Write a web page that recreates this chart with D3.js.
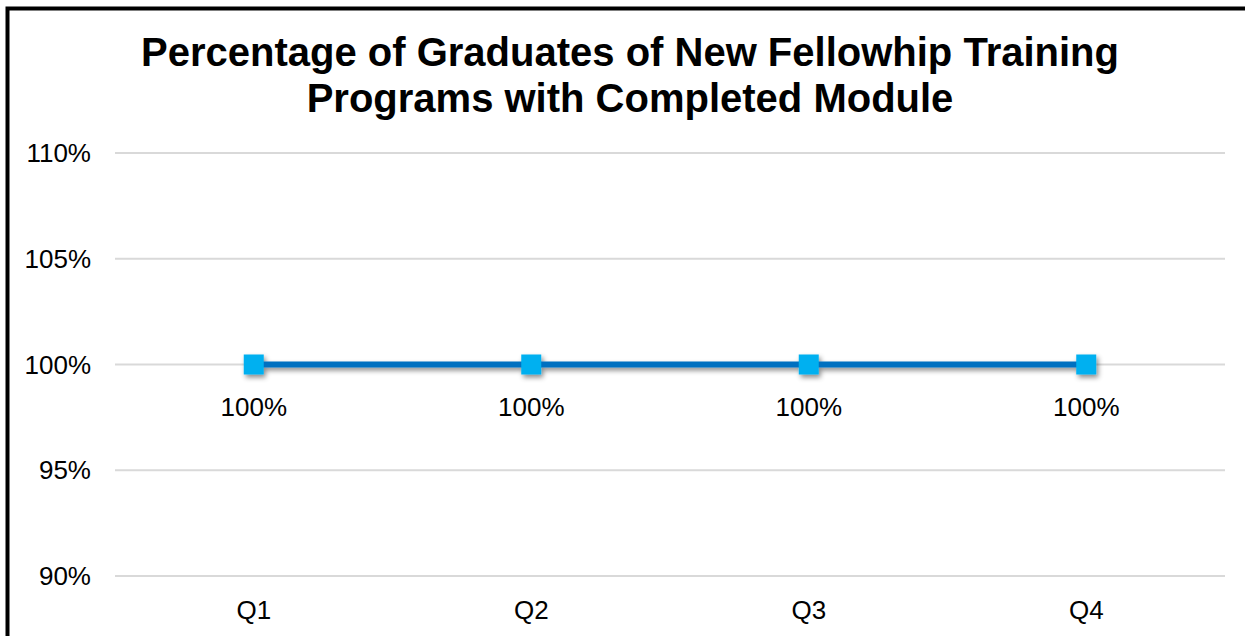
<!DOCTYPE html>
<html>
<head>
<meta charset="utf-8">
<script src="https://cdn.jsdelivr.net/npm/d3@7"></script>
<style>
  body { margin: 0; background: #fff; }
  svg { display: block; font-family: "Liberation Sans", Arial, sans-serif; }
</style>
</head>
<body>
<div id="chart"></div>
<script>
// data
const quarters = ["Q1", "Q2", "Q3", "Q4"];
const values = [100, 100, 100, 100];
const yTicks = [90, 95, 100, 105, 110];
const titleLines = ["Percentage of Graduates of New Fellowhip Training", "Programs with Completed Module"];

const width = 1245;
const height = 636;
const plot = { left: 115, right: 1225, top: 153, bottom: 576 };

const svg = d3.select("#chart").append("svg")
  .attr("width", width)
  .attr("height", height);

const defs = svg.append("defs");
const shadow = defs.append("filter").attr("id", "shadow")
  .attr("x", "-50%").attr("y", "-50%").attr("width", "200%").attr("height", "200%");
shadow.append("feDropShadow")
  .attr("dx", 2).attr("dy", 3).attr("stdDeviation", 2.5)
  .attr("flood-color", "#000").attr("flood-opacity", 0.45);

// frame (left + top edges visible)
svg.append("path")
  .attr("d", `M7.5,${height} V8.5 H${width}`)
  .attr("fill", "none")
  .attr("stroke", "#000")
  .attr("stroke-width", 4);

const x = d3.scaleBand().domain(quarters).range([plot.left, plot.right]);
const y = d3.scaleLinear().domain([90, 110]).range([plot.bottom, plot.top]);

// gridlines
svg.append("g").selectAll("line").data(yTicks).join("line")
  .attr("x1", plot.left).attr("x2", plot.right)
  .attr("y1", d => y(d)).attr("y2", d => y(d))
  .attr("stroke", "#d9d9d9").attr("stroke-width", 2);

// y axis labels
svg.append("g").selectAll("text").data(yTicks).join("text")
  .attr("x", 91).attr("y", d => y(d))
  .attr("dy", "0.35em")
  .attr("text-anchor", "end")
  .attr("font-size", 26)
  .attr("fill", "#000")
  .text(d => d + "%");

// x axis labels
svg.append("g").selectAll("text").data(quarters).join("text")
  .attr("x", d => x(d) + x.bandwidth() / 2)
  .attr("y", plot.bottom + 34)
  .attr("dy", "0.35em")
  .attr("text-anchor", "middle")
  .attr("font-size", 26)
  .attr("fill", "#000")
  .text(d => d);

// title
svg.append("text")
  .attr("x", 630).attr("y", 52)
  .attr("text-anchor", "middle")
  .attr("font-size", 40)
  .attr("font-weight", "bold")
  .selectAll("tspan").data(titleLines).join("tspan")
  .attr("x", 630)
  .attr("dy", (d, i) => i === 0 ? "0.35em" : 46)
  .text(d => d);

const pts = quarters.map((q, i) => ({ q, v: values[i] }));
const line = d3.line()
  .x(d => x(d.q) + x.bandwidth() / 2)
  .y(d => y(d.v));

const series = svg.append("g").attr("filter", "url(#shadow)");
series.append("path")
  .datum(pts)
  .attr("d", line)
  .attr("fill", "none")
  .attr("stroke", "#0070c0")
  .attr("stroke-width", 6);

const ms = 20;
series.selectAll("rect").data(pts).join("rect")
  .attr("x", d => x(d.q) + x.bandwidth() / 2 - ms / 2)
  .attr("y", d => y(d.v) - ms / 2)
  .attr("width", ms).attr("height", ms)
  .attr("fill", "#00b0f0");

// data labels
svg.append("g").selectAll("text").data(pts).join("text")
  .attr("x", d => x(d.q) + x.bandwidth() / 2)
  .attr("y", d => y(d.v) + 42)
  .attr("dy", "0.35em")
  .attr("text-anchor", "middle")
  .attr("font-size", 26)
  .attr("fill", "#000")
  .text(d => d.v + "%");
</script>
</body>
</html>
